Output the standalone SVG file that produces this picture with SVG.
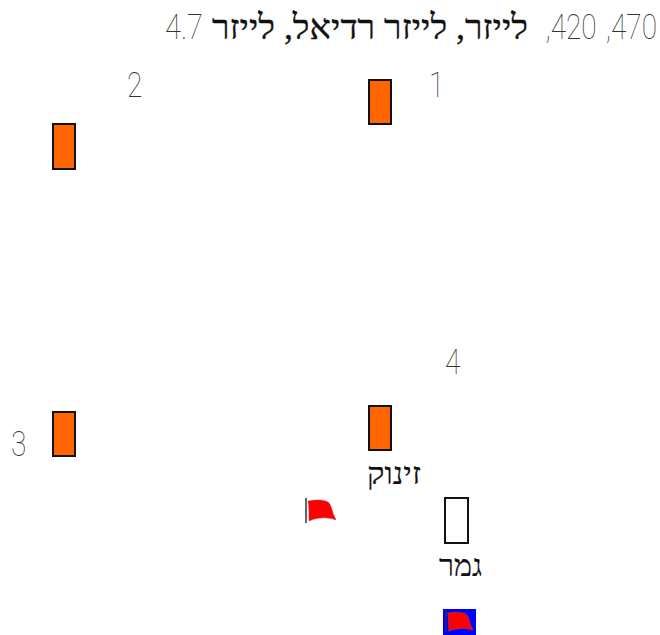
<svg xmlns="http://www.w3.org/2000/svg" width="660" height="635" viewBox="0 0 660 635">
<style>
text{font-family:"Roboto","Liberation Sans",sans-serif;fill:#333}
.n{font-size:35px;font-weight:100}
.h{font-family:"Liberation Serif","DejaVu Serif",serif;font-size:31px;fill:#111;font-weight:400}
.b{fill:#ff6600;stroke:#111;stroke-width:2}
.e{fill:#fff;stroke:#111;stroke-width:2}
.flag{fill:#ff0000;stroke:#b44;stroke-width:.5}
.pole{stroke:#333;stroke-width:1.5;fill:none}
</style>
<defs>
<g id="fl">
<path class="pole" d="M0 0V25"/>
<path class="flag" d="M2 3C8 2 16 1 22 4C26 7 25 12 30 22C22 19 12 19 3 23C3 16 3 9 2 3Z"/>
</g>
</defs>
<g id="title">
<text class="n" x="657" y="39" direction="rtl" word-spacing="3" transform="translate(657 0) scale(.8 1) translate(-657 0)">470, 420,</text>
<text class="h" x="528" y="39" direction="rtl" style="font-size:35px;stroke:#111;stroke-width:.3" textLength="316" lengthAdjust="spacingAndGlyphs">לייזר, לייזר רדיאל, לייזר</text>
<text class="n" x="165" y="39" textLength="38" lengthAdjust="spacingAndGlyphs">4.7</text>
</g>
<g id="node-1"><rect class="b" x="369" y="80" width="22" height="44"/><text class="n" x="429" y="97" transform="translate(429 0) scale(.8 1) translate(-429 0)">1</text></g>
<g id="node-2"><rect class="b" x="53" y="124" width="22" height="45"/><text class="n" x="127" y="97" transform="translate(127 0) scale(.8 1) translate(-127 0)">2</text></g>
<g id="node-3"><rect class="b" x="53" y="412" width="22" height="44"/><text class="n" x="11" y="456" transform="translate(11 0) scale(.8 1) translate(-11 0)">3</text></g>
<g id="node-4"><rect class="b" x="369" y="406" width="22" height="44"/><text class="n" x="445" y="374" transform="translate(445 0) scale(.8 1) translate(-445 0)">4</text></g>
<g id="start"><text class="h" x="394" y="484" text-anchor="middle" textLength="54" lengthAdjust="spacingAndGlyphs" style="stroke:#111;stroke-width:.2">זינוק</text></g>
<g id="end"><rect class="e" x="445" y="498" width="23" height="45"/><text class="h" x="460.500" y="576" text-anchor="middle" textLength="43" lengthAdjust="spacingAndGlyphs" style="stroke:#111;stroke-width:.2">גמר</text></g>
<g id="flag-start"><use href="#fl" x="306" y="498"/></g>
<g id="flag-end"><rect x="443" y="609" width="33" height="26" fill="#0000ff"/><use href="#fl" transform="translate(446 610.500) scale(.9)"/></g>
<g id="connectors"></g>
</svg>
